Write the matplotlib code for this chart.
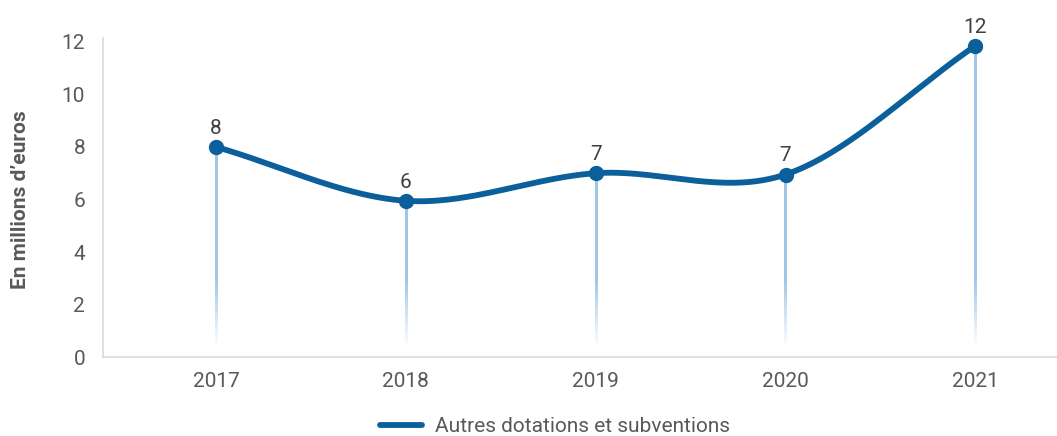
import numpy as np
import matplotlib
matplotlib.use("Agg")
import matplotlib.pyplot as plt

years = ["2017", "2018", "2019", "2020", "2021"]
values = [8.0, 5.95, 7.0, 6.95, 11.85]
labels = ["8", "6", "7", "7", "12"]
series_name = "Autres dotations et subventions"
y_ticks = [0, 2, 4, 6, 8, 10, 12]

plt.rcParams['font.family'] = ['Roboto', 'DejaVu Sans']
line_color = "#0B5F9A"
drop_color = "#9DC3E6"
text_color = "#595959"

fig = plt.figure(figsize=(10.57, 4.36), dpi=100)
ax = fig.add_axes([0.0975, 0.181, 0.9025, 0.723])

x = np.arange(len(years))
y = np.array(values)

def catmull_rom(px, py, n=60):
    P = np.column_stack([px, py]).astype(float)
    P = np.vstack([P[0] - (P[1] - P[0]), P, P[-1] + (P[-1] - P[-2])])
    out = []
    for i in range(1, len(P) - 2):
        p0, p1, p2, p3 = P[i - 1], P[i], P[i + 1], P[i + 2]
        t = np.linspace(0, 1, n)[:, None]
        seg = 0.5 * ((2 * p1) + (-p0 + p2) * t + (2 * p0 - 5 * p1 + 4 * p2 - p3) * t ** 2
                     + (-p0 + 3 * p1 - 3 * p2 + p3) * t ** 3)
        out.append(seg)
    s = np.vstack(out)
    return s[:, 0], s[:, 1]

# drop lines fading toward the bottom (gradient images)
rgb = matplotlib.colors.to_rgb(drop_color)
half_w = 0.0062
for xi, yi in zip(x, y):
    n = 200
    ys = np.linspace(yi, 0, n)
    alpha = np.clip((ys - 0.35) / 2.6, 0, 1) * 0.95
    img = np.zeros((n, 1, 4))
    img[:, 0, :3] = rgb
    img[:, 0, 3] = alpha
    ax.imshow(img, extent=[xi - half_w, xi + half_w, 0, yi], aspect='auto',
              interpolation='bilinear', zorder=2, origin='upper')
ax.set_xlim(-0.595, 4.43)
ax.set_ylim(0, 12)

sx, sy = catmull_rom(x, y)
ax.plot(sx, sy, color=line_color, lw=4.2, solid_capstyle='round', zorder=3,
        label=series_name, clip_on=False)
ax.plot(x, y, 'o', color=line_color, ms=10, zorder=4, clip_on=False)

for xi, yi, lab in zip(x, y, labels):
    ax.text(xi, yi + 0.35, lab, ha='center', va='bottom', fontsize=15, color="#404040")

ax.set_xticks(x)
ax.set_xticklabels(years)
ax.set_yticks(y_ticks)
ax.tick_params(axis='both', length=0, labelsize=15, labelcolor=text_color)
ax.tick_params(axis='x', pad=11)
ax.tick_params(axis='y', pad=13)
for s in ['top', 'right']:
    ax.spines[s].set_visible(False)
for s in ['left', 'bottom']:
    ax.spines[s].set_color("#D9D9D9")
    ax.spines[s].set_linewidth(1.2)
ax.spines['left'].set_bounds(0, 12.15)

ax.set_ylabel("En millions d\u2019euros", fontsize=15, fontweight='bold', color=text_color)
ax.yaxis.set_label_coords(-0.077, 0.5)

leg = fig.legend(loc='center', bbox_to_anchor=(0.525, 0.022), frameon=False,
                 fontsize=15, handlelength=2.0, handletextpad=0.6)
for t in leg.get_texts():
    t.set_color(text_color)

fig.savefig("out.png", dpi=100)
